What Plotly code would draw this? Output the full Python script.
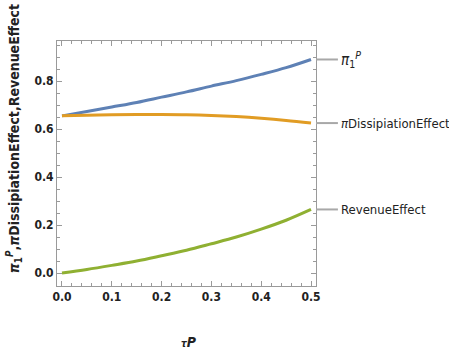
import plotly.graph_objects as go

# Sampled curves over the tax rate tau_P
tau = [0.0, 0.05, 0.10, 0.15, 0.20, 0.25, 0.30, 0.35, 0.40, 0.45, 0.50]
pi1 = [0.655, 0.673, 0.692, 0.711, 0.733, 0.755, 0.779, 0.802, 0.828, 0.856, 0.890]
dissipation = [0.655, 0.658, 0.660, 0.661, 0.661, 0.660, 0.657, 0.652, 0.645, 0.636, 0.625]
revenue = [0.000, 0.015, 0.032, 0.050, 0.072, 0.095, 0.122, 0.150, 0.183, 0.220, 0.265]

series_labels = ["<i>π</i><sub>1</sub><sup><i>P</i></sup>", "<i>π</i>DissipiationEffect", "RevenueEffect"]
label_sizes = [15, 13, 13]
colors = ["#5E81B5", "#E19C24", "#8FB032"]

x_ticks = [0.0, 0.1, 0.2, 0.3, 0.4, 0.5]
y_ticks = [0.0, 0.2, 0.4, 0.6, 0.8]

FONT = "DejaVu Sans Condensed, Liberation Sans, Arial"

fig = go.Figure()
for ys, c in zip([pi1, dissipation, revenue], colors):
    fig.add_trace(go.Scatter(x=tau, y=ys, mode="lines", line=dict(color=c, width=3, shape="spline"),
                             showlegend=False, hoverinfo="skip"))

tick_font = dict(family=FONT, size=12, color="#222", weight="bold")
axis_common = dict(showline=True, linecolor="#9a9a9a", linewidth=1, mirror="allticks",
                   ticks="inside", ticklen=5, tickcolor="#9a9a9a", showgrid=False, zeroline=False,
                   tickfont=tick_font)

fig.update_xaxes(range=[-0.01, 0.51], tickvals=x_ticks, ticktext=[f"{v:.1f}" for v in x_ticks],
                 minor=dict(dtick=0.02, tick0=0, ticks="inside", ticklen=3, tickcolor="#9a9a9a"),
                 **axis_common)
fig.update_yaxes(range=[-0.054, 0.967], tickvals=y_ticks, ticktext=[f"{v:.1f}" for v in y_ticks],
                 minor=dict(dtick=0.05, tick0=0, ticks="inside", ticklen=3, tickcolor="#9a9a9a"),
                 **axis_common)

# Right-side labels with short connector lines at each curve's end value
ends = [pi1[-1], dissipation[-1], revenue[-1]]
for y_end, txt, sz in zip(ends, series_labels, label_sizes):
    fig.add_shape(type="line", xref="paper", yref="y", x0=1.0, x1=1.0 + 22 / 260, y0=y_end, y1=y_end,
                  line=dict(color="#a8a8a8", width=2))
    fig.add_annotation(xref="paper", yref="y", x=1.0 + 23 / 260, y=y_end, text=txt, showarrow=False,
                       xanchor="left", yanchor="middle", font=dict(family=FONT, size=sz, color="#222"))

title_font = dict(family=FONT, size=14, color="#222")
fig.add_annotation(xref="paper", yref="paper", x=-43 / 260, y=0.60, textangle=-90, showarrow=False,
                   xanchor="center", yanchor="middle", font=title_font,
                   text="<b><i>π</i><sub>1</sub><sup><i>P</i></sup>,<i>π</i>DissipiationEffect,RevenueEffect</b>")
fig.add_annotation(xref="paper", yref="paper", x=0.51, y=-46 / 245, showarrow=False,
                   xanchor="center", yanchor="top", font=title_font,
                   text="<b><span style='font-size:10px'><i>τ</i></span><i>P</i></b>")

fig.update_layout(width=449, height=349, margin=dict(l=57, r=133, t=41, b=63),
                  paper_bgcolor="white", plot_bgcolor="white")

fig.write_html("out.html")
